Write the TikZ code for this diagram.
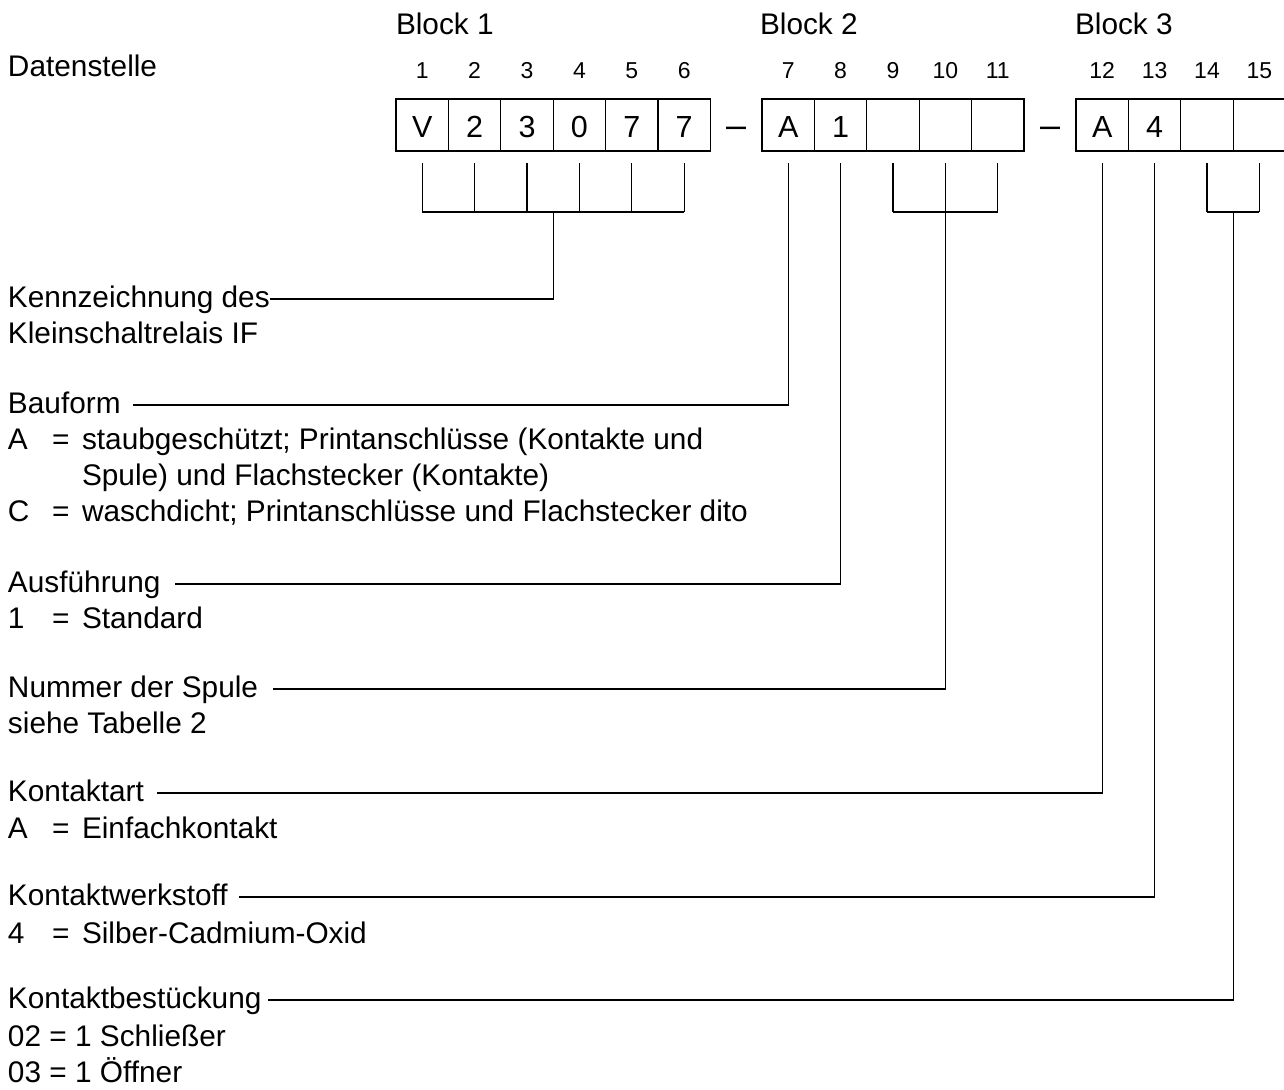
\documentclass[tikz,border=0pt]{standalone}
\usepackage{fontspec}
\setmainfont{Liberation Sans}
\begin{document}
\begin{tikzpicture}[x=1pt,y=-1pt,
  lbl/.style={anchor=base west, inner sep=0pt, outer sep=0pt, font=\fontsize{29.8}{35}\selectfont},
  num/.style={anchor=base, inner sep=0pt, font=\fontsize{23}{26}\selectfont},
  cell/.style={draw, line width=1.3pt, minimum width=52.4pt, minimum height=52pt,
    inner sep=0pt, outer sep=0pt, anchor=north west, text height=24pt, text depth=0pt,
    font=\fontsize{30.5}{35}\selectfont},
  dashsym/.style={anchor=base, inner sep=0pt, font=\fontsize{36}{36}\selectfont},
  ln/.style={line width=1.2pt}]
\useasboundingbox (0,0) rectangle (1284,1089);

% header
\node[lbl] (dst) at (8,77) {Datenstelle};
\node[lbl] (b1) at (396,35) {Block 1};
\node[lbl] (b2) at (760,35) {Block 2};
\node[lbl] (b3) at (1075,35) {Block 3};

% cells
\foreach \i/\x/\t in {1/396/V,2/448.4/2,3/500.8/3,4/553.2/0,5/605.6/7,6/658/7,
  7/762/A,8/814.4/1,9/866.8/{},10/919.2/{},11/971.6/{},
  12/1076/A,13/1128.4/4,14/1180.8/{},15/1233.2/{}}{
  \node[cell] (c\i) at (\x,99) {\t};
  \node[num] (n\i) at ([yshift=20pt]c\i.north) {\i};
  \coordinate (t\i) at ([yshift=-12pt]c\i.south);
  \coordinate (u\i) at ([yshift=-61pt]c\i.south);
}
\node[dashsym] (d1) at (736,138) {–};
\node[dashsym] (d2) at (1050,138) {–};

% group ticks
\foreach \i in {1,...,6,9,10,11,14,15}{
  \draw[ln] (t\i) -- (u\i);
}
\draw[ln] (u1) -- (u6);
\draw[ln] (u9) -- (u11);
\draw[ln] (u14) -- (u15);
\coordinate (j1) at (u1 -| c4.south west);
\coordinate (j2) at (u10);
\coordinate (j3) at (u1 -| c15.south west);

% labels
\node[lbl] (kenn) at (8,307) {Kennzeichnung des};
\node[lbl] (kenn2) at (8,343) {Kleinschaltrelais IF};

\node[lbl] (bau) at (8,413) {Bauform};
\node[lbl] (bauA) at (8,449) {A};
\node[lbl] (bauAe) at (52,449) {=};
\node[lbl] (bauAt) at (82,449) {staubgeschützt; Printanschlüsse (Kontakte und};
\node[lbl] (bauAt2) at (82,485) {Spule) und Flachstecker (Kontakte)};
\node[lbl] (bauC) at (8,521) {C};
\node[lbl] (bauCe) at (52,521) {=};
\node[lbl] (bauCt) at (82,521) {waschdicht; Printanschlüsse und Flachstecker dito};

\node[lbl] (aus) at (8,592) {Ausführung};
\node[lbl] (aus1) at (8,628) {1};
\node[lbl] (aus1e) at (52,628) {=};
\node[lbl] (aus1t) at (82,628) {Standard};

\node[lbl] (spu) at (8,697) {Nummer der Spule};
\node[lbl] (spu2) at (8,733) {siehe Tabelle 2};

\node[lbl] (kart) at (8,801) {Kontaktart};
\node[lbl] (kartA) at (8,838) {A};
\node[lbl] (kartAe) at (52,838) {=};
\node[lbl] (kartAt) at (82,838) {Einfachkontakt};

\node[lbl] (kw) at (8,905) {Kontaktwerkstoff};
\node[lbl] (kw4) at (8,943) {4};
\node[lbl] (kw4e) at (52,943) {=};
\node[lbl] (kw4t) at (82,943) {Silber-Cadmium-Oxid};

\node[lbl] (kb) at (8,1008) {Kontaktbestückung};
\node[lbl] (kb02) at (8,1046) {02 = 1 Schließer};
\node[lbl] (kb03) at (8,1082) {03 = 1 Öffner};

% line starts
\coordinate (skenn) at ([yshift=8pt]kenn.base east);
\coordinate (sbau) at (133,405);
\coordinate (saus) at (175,584);
\coordinate (sspu) at (273,689);
\coordinate (skart) at (157,793);
\coordinate (skw) at (239,897);
\coordinate (skb) at (268,1000);

% connectors
\draw[ln] (skenn) -| (j1);
\draw[ln] (sbau) -| (t7);
\draw[ln] (saus) -| (t8);
\draw[ln] (sspu) -| (j2);
\draw[ln] (skart) -| (t12);
\draw[ln] (skw) -| (t13);
\draw[ln] (skb) -| (j3);
\end{tikzpicture}
\end{document}
